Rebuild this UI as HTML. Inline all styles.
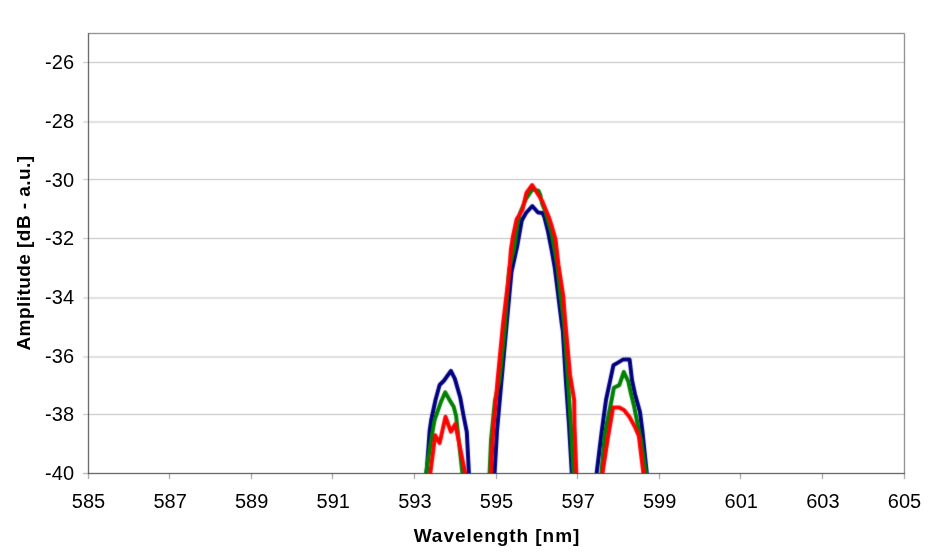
<!DOCTYPE html>
<html><head><meta charset="utf-8"><style>
html,body{margin:0;padding:0;background:#fff;}
svg{display:block;}
text{font-family:"Liberation Sans",sans-serif;font-size:20px;fill:#000;}
.b{font-weight:bold;font-size:19px;stroke:none;}
</style></head><body>
<svg width="932" height="556" viewBox="0 0 932 556">
<defs><filter id="bl" filterUnits="userSpaceOnUse" x="0" y="0" width="932" height="556" color-interpolation-filters="sRGB"><feConvolveMatrix order="3" kernelMatrix="0.0169 0.0962 0.0169 0.0962 0.5476 0.0962 0.0169 0.0962 0.0169" divisor="1" edgeMode="duplicate"/></filter><filter id="id" filterUnits="userSpaceOnUse" x="0" y="0" width="932" height="556" color-interpolation-filters="sRGB"><feOffset dx="0" dy="0"/></filter><clipPath id="c"><rect x="88" y="33" width="817" height="440"/></clipPath></defs>
<g filter="url(#bl)">
<rect width="932" height="556" fill="#fff"/>
<line x1="83" y1="62.5" x2="904" y2="62.5" stroke="#c0c0c0" stroke-width="1"/>
<line x1="83" y1="122.0" x2="904" y2="122.0" stroke="#c0c0c0" stroke-width="1"/>
<line x1="83" y1="179.5" x2="904" y2="179.5" stroke="#c0c0c0" stroke-width="1"/>
<line x1="83" y1="238.5" x2="904" y2="238.5" stroke="#c0c0c0" stroke-width="1"/>
<line x1="83" y1="298.0" x2="904" y2="298.0" stroke="#c0c0c0" stroke-width="1"/>
<line x1="83" y1="357.0" x2="904" y2="357.0" stroke="#c0c0c0" stroke-width="1"/>
<line x1="83" y1="414.5" x2="904" y2="414.5" stroke="#c0c0c0" stroke-width="1"/>
<path d="M88.5 473 V33.5 H904.5 V473" fill="none" stroke="#707070" stroke-width="1"/>
<line x1="88.5" y1="474" x2="88.5" y2="479" stroke="#909090" stroke-width="1"/>
<line x1="169.5" y1="474" x2="169.5" y2="479" stroke="#909090" stroke-width="1"/>
<line x1="251.5" y1="474" x2="251.5" y2="479" stroke="#909090" stroke-width="1"/>
<line x1="332.5" y1="474" x2="332.5" y2="479" stroke="#909090" stroke-width="1"/>
<line x1="414.5" y1="474" x2="414.5" y2="479" stroke="#909090" stroke-width="1"/>
<line x1="496.5" y1="474" x2="496.5" y2="479" stroke="#909090" stroke-width="1"/>
<line x1="577.5" y1="474" x2="577.5" y2="479" stroke="#909090" stroke-width="1"/>
<line x1="659.5" y1="474" x2="659.5" y2="479" stroke="#909090" stroke-width="1"/>
<line x1="740.5" y1="474" x2="740.5" y2="479" stroke="#909090" stroke-width="1"/>
<line x1="822.5" y1="474" x2="822.5" y2="479" stroke="#909090" stroke-width="1"/>
<line x1="904.5" y1="474" x2="904.5" y2="479" stroke="#909090" stroke-width="1"/>
<line x1="88.5" y1="33" x2="88.5" y2="473" stroke="#383838" stroke-width="1"/>
<line x1="83" y1="473.5" x2="88" y2="473.5" stroke="#a0a0a0" stroke-width="1"/>
<line x1="88" y1="473.5" x2="905" y2="473.5" stroke="#383838" stroke-width="1"/>
<g clip-path="url(#c)">
<polyline points="426.3,475.0 428.5,447.0 429.6,431.0 431.2,420.0 435.5,400.0 439.6,385.0 444.1,380.5 450.9,370.8 454.9,378.9 460.3,397.8 463.6,416.0 466.8,432.0 469.0,475.0" fill="none" stroke="#000080" stroke-width="4" stroke-linejoin="round" stroke-linecap="butt"/>
<polyline points="494.5,475.0 497.1,430.0 501.3,383.0 506.4,327.0 511.5,272.0 517.4,245.2 521.8,220.4 526.0,213.0 532.3,206.0 538.0,212.5 542.5,213.0 544.5,217.5 548.0,231.6 551.6,249.9 554.8,268.0 558.3,296.0 561.9,325.0 562.8,331.0 565.8,380.0 569.0,425.0 571.9,475.0" fill="none" stroke="#000080" stroke-width="4" stroke-linejoin="round" stroke-linecap="butt"/>
<polyline points="596.4,475.0 601.5,433.0 606.0,400.0 613.4,365.3 618.8,362.1 623.3,359.4 629.6,359.4 632.0,380.0 635.0,394.0 640.0,412.0 642.3,430.0 647.0,475.0" fill="none" stroke="#000080" stroke-width="4" stroke-linejoin="round" stroke-linecap="butt"/>
<polyline points="425.8,475.0 431.1,440.0 434.6,420.0 441.2,401.2 445.2,392.3 449.3,399.6 453.7,406.8 456.1,415.7 457.6,430.0 462.6,475.0" fill="none" stroke="#008000" stroke-width="4" stroke-linejoin="round" stroke-linecap="butt"/>
<polyline points="489.5,475.0 491.0,440.0 495.0,400.0 499.5,380.0 504.7,330.0 509.0,270.0 514.3,247.3 517.3,225.0 520.0,213.0 526.0,199.0 532.3,189.5 538.4,190.6 540.3,195.0 542.0,203.2 545.5,212.0 548.3,222.0 551.2,231.6 554.6,250.0 557.2,265.0 560.6,296.0 564.2,325.0 567.8,378.0 571.1,430.0 573.6,475.0" fill="none" stroke="#008000" stroke-width="4" stroke-linejoin="round" stroke-linecap="butt"/>
<polyline points="601.3,475.0 604.8,434.3 611.6,400.0 613.9,387.8 619.3,385.1 623.8,372.0 628.3,381.5 630.8,393.0 634.0,405.9 637.8,425.3 641.0,440.0 646.2,475.0" fill="none" stroke="#008000" stroke-width="4" stroke-linejoin="round" stroke-linecap="butt"/>
<polyline points="430.1,475.0 435.2,435.2 439.6,443.1 445.5,416.8 450.9,431.7 455.3,424.0 465.5,475.0" fill="none" stroke="#ff0000" stroke-width="4" stroke-linejoin="round" stroke-linecap="butt"/>
<polyline points="490.8,475.0 493.2,430.0 497.6,380.0 502.9,325.0 509.2,272.0 510.9,249.5 512.9,236.6 516.6,219.3 522.4,210.0 526.4,193.0 532.2,185.0 537.5,193.5 542.2,201.0 545.7,209.5 549.2,218.0 551.8,226.2 555.5,239.1 558.5,265.0 563.3,296.3 565.1,320.0 570.1,375.0 574.2,400.0 574.5,425.0 576.4,475.0" fill="none" stroke="#ff0000" stroke-width="4" stroke-linejoin="round" stroke-linecap="butt"/>
<polyline points="602.2,475.0 608.0,437.2 613.1,407.4 618.9,407.4 624.0,410.0 629.5,417.0 635.1,427.4 638.8,436.0 643.6,475.0" fill="none" stroke="#ff0000" stroke-width="4" stroke-linejoin="round" stroke-linecap="butt"/>
</g>
</g>
<g filter="url(#id)">
<text x="74" y="69.3" text-anchor="end">-26</text>
<text x="74" y="128.0" text-anchor="end">-28</text>
<text x="74" y="186.7" text-anchor="end">-30</text>
<text x="74" y="245.3" text-anchor="end">-32</text>
<text x="74" y="304.0" text-anchor="end">-34</text>
<text x="74" y="362.7" text-anchor="end">-36</text>
<text x="74" y="421.3" text-anchor="end">-38</text>
<text x="74" y="480.0" text-anchor="end">-40</text>
<text x="88.5" y="508" text-anchor="middle">585</text>
<text x="170.1" y="508" text-anchor="middle">587</text>
<text x="251.7" y="508" text-anchor="middle">589</text>
<text x="333.3" y="508" text-anchor="middle">591</text>
<text x="414.9" y="508" text-anchor="middle">593</text>
<text x="496.5" y="508" text-anchor="middle">595</text>
<text x="578.1" y="508" text-anchor="middle">597</text>
<text x="659.7" y="508" text-anchor="middle">599</text>
<text x="741.3" y="508" text-anchor="middle">601</text>
<text x="822.9" y="508" text-anchor="middle">603</text>
<text x="904.5" y="508" text-anchor="middle">605</text>
<text class="b" x="497" y="542" text-anchor="middle" letter-spacing="0.95">Wavelength [nm]</text>
<text class="b" transform="translate(30,253) rotate(-90)" text-anchor="middle" letter-spacing="0.45">Amplitude [dB - a.u.]</text>
</g>
</svg>
</body></html>
